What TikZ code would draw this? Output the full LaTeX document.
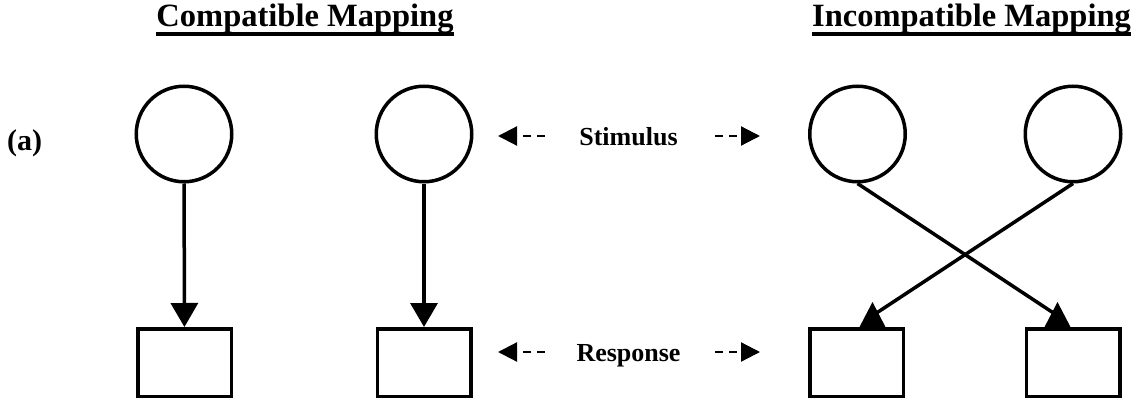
\documentclass[tikz,border=0pt]{standalone}
\usepackage{fontspec}
\setmainfont{Liberation Serif}
\usetikzlibrary{arrows.meta}
\begin{document}
\begin{tikzpicture}[x=1pt,y=-1pt,
  stim/.style={circle,draw,line width=3.5pt,minimum size=95.5pt,inner sep=0pt},
  resp/.style={rectangle,draw,line width=3.5pt,minimum width=93.5pt,minimum height=67.5pt,inner sep=0pt},
  link/.style={line width=3.5pt,-{Triangle[length=24pt,width=27pt]}},
  crossline/.style={line width=3.5pt},
  tipfill/.style={fill=black},
  hint/.style={line width=2.2pt,dash pattern=on 8pt off 6pt,-{Triangle[length=19pt,width=19pt]}},
  title/.style={font=\fontsize{32.5}{36}\selectfont\bfseries,inner sep=0pt,anchor=base},
  lab/.style={font=\fontsize{26}{30}\selectfont\bfseries,inner sep=0pt,anchor=base},
  uline/.style={line width=3.5pt}
]
\useasboundingbox (0,0) rectangle (1143,404);
% titles
\node[title] (t1) at (305,27) {Compatible Mapping};
\node[title] (t2) at (971.5,27) {Incompatible Mapping};
\draw[uline] ([yshift=-7pt]t1.base west) -- ([yshift=-7pt]t1.base east);
\draw[uline] ([yshift=-7pt]t2.base west) -- ([yshift=-7pt]t2.base east);
% label
\node[lab,anchor=base west,font=\fontsize{30}{34}\selectfont\bfseries] (lbl) at (7,150) {(a)};
% stimuli
\node[stim] (c1) at (184,134) {};
\node[stim] (c2) at (424,134) {};
\node[stim] (c3) at (857.5,134) {};
\node[stim] (c4) at (1073,134) {};
% responses
\node[resp] (r1) at (184.5,362.5) {};
\node[resp] (r2) at (424,362.5) {};
\node[resp] (r3) at (856.5,362.5) {};
\node[resp] (r4) at (1073,362.5) {};
% compatible mapping
\draw[link] (c1) -- (r1);
\draw[link] (c2) -- (r2);
% incompatible mapping
\coordinate (e3) at (875,314);
\coordinate (e4) at (1055,314);
\draw[crossline] (c4.south) -- (e3);
\draw[crossline] (c3.south) -- (e4);
\fill[tipfill] (859,328) -- (872.5,302) -- (886,328) -- cycle;
\fill[tipfill] (1044,328) -- (1057.5,302) -- (1071,328) -- cycle;
% middle labels
\node[lab] (stimtxt) at (628.5,145) {Stimulus};
\node[lab] (resptxt) at (628.5,361) {Response};
\coordinate (sa) at (545,136);
\coordinate (sat) at (498,136);
\coordinate (sb) at (715,136);
\coordinate (sbt) at (760,136);
\coordinate (ra) at (545,352);
\coordinate (rat) at (498,352);
\coordinate (rb) at (715,352);
\coordinate (rbt) at (760,352);
\draw[hint] (sa) -- (sat);
\draw[hint] (sb) -- (sbt);
\draw[hint] (ra) -- (rat);
\draw[hint] (rb) -- (rbt);
\end{tikzpicture}
\end{document}
